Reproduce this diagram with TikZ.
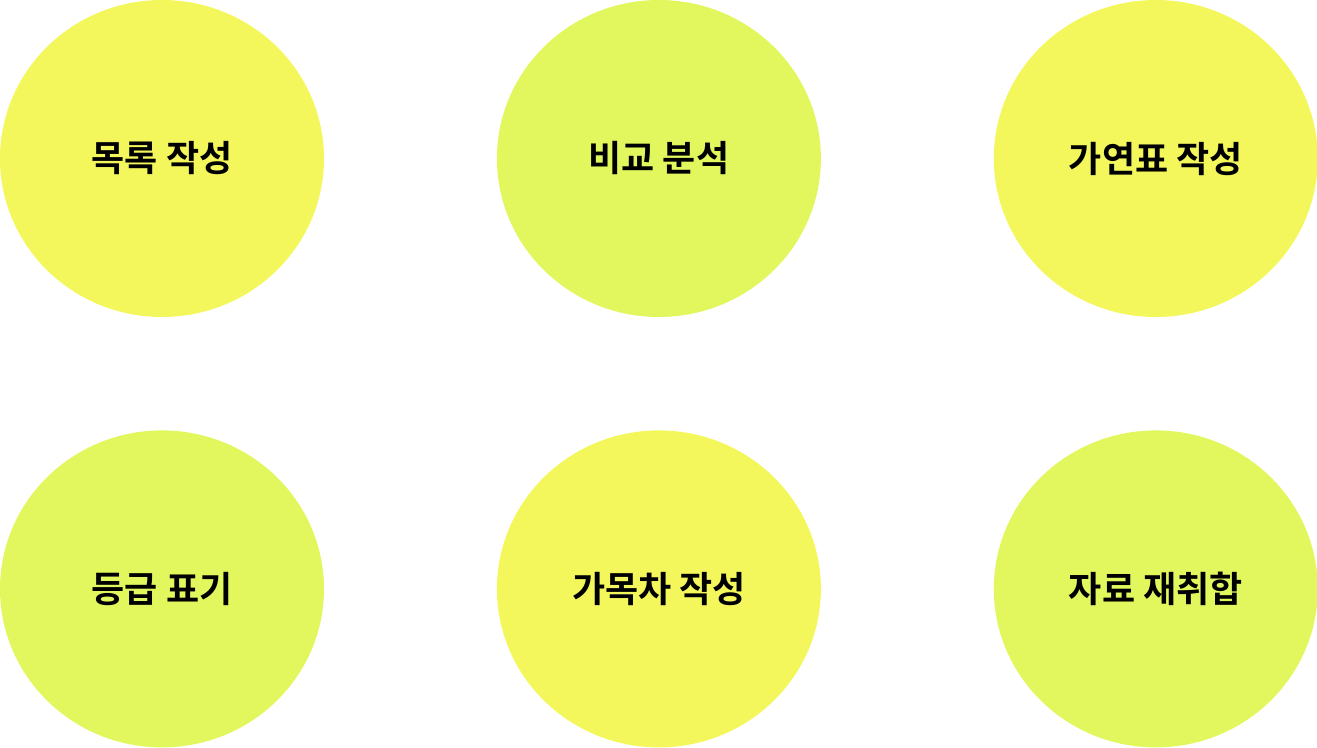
\documentclass[tikz,border=0pt]{standalone}
\usepackage{fontspec}
\setmainfont{Noto Sans CJK KR}[BoldFont={Noto Sans CJK KR Bold}]
\usetikzlibrary{shapes.geometric,positioning}

\definecolor{bubbleyellow}{HTML}{F3F75C}
\definecolor{bubblelime}{HTML}{E2F75E}

\begin{document}
\begin{tikzpicture}[
    bubble/.style={ellipse, inner sep=0pt, minimum width=324pt, minimum height=317pt, font=\fontsize{36}{42}\selectfont\bfseries, text=black},
    node distance=113pt and 172.5pt
]
    \useasboundingbox (0,0) rectangle (1317pt,-747pt);

    \node[bubble, fill=bubbleyellow] (list) at (162pt,-158.5pt) {목록 작성};
    \node[bubble, fill=bubblelime, right=of list] (compare) {비교 분석};
    \node[bubble, fill=bubbleyellow, right=of compare] (chrono) {가연표 작성};

    \node[bubble, fill=bubblelime, below=of list] (grade) {등급 표기};
    \node[bubble, fill=bubbleyellow, right=of grade] (draft) {가목차 작성};
    \node[bubble, fill=bubblelime, right=of draft] (recollect) {자료 재취합};
\end{tikzpicture}
\end{document}
